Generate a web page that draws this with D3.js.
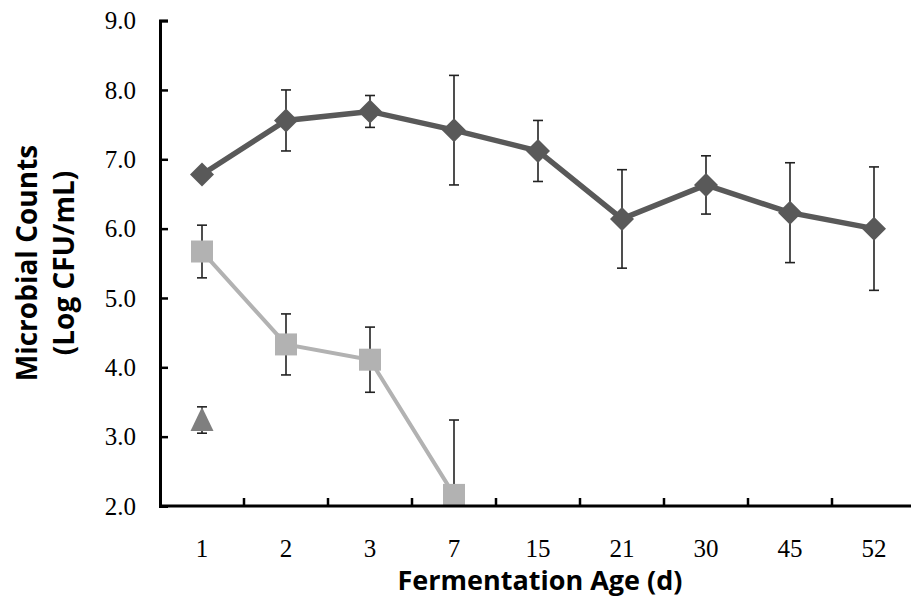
<!DOCTYPE html>
<html><head><meta charset="utf-8">
<script src="https://cdn.jsdelivr.net/npm/d3@7"></script>
<style>body{margin:0;background:#fff}svg{display:block}</style>
</head><body>
<script>
const categories = ["1","2","3","7","15","21","30","45","52"];
const diamondVals = [6.78, 7.56, 7.69, 7.42, 7.12, 6.14, 6.63, 6.23, 6.00];
const diamondErr  = [0.08, 0.44, 0.23, 0.79, 0.44, 0.71, 0.42, 0.72, 0.89];
const squareVals  = [5.67, 4.33, 4.11, 2.16];
const squareErr   = [0.38, 0.44, 0.47, 1.08];
const triangleVals = [3.24];
const triangleErr  = [0.19];
const yTicks = [2,3,4,5,6,7,8,9];

const W = 911, H = 604;
const svg = d3.select("body").append("svg").attr("width", W).attr("height", H);
const x = d3.scaleBand().domain(categories).range([160, 916]);
const y = d3.scaleLinear().domain([2, 9]).range([506, 20.6]);
const cx = c => x(c) + x.bandwidth()/2;

svg.append("defs").append("clipPath").attr("id","plot")
  .append("rect").attr("x",160).attr("y",0).attr("width",W-160).attr("height",506);

const shapes = {
  square: "M-11,-11H11V11H-11Z",
  diamond: "M0,-12L12,0L0,12L-12,0Z",
  triangle: "M0,-13L11.5,11L-11.5,11Z"
};

function series(vals, errs, color, lw, shape) {
  const pts = vals.map((v,i)=>({c:categories[i], v, e:errs[i]}));
  const g = svg.append("g").attr("clip-path","url(#plot)");
  pts.forEach(p=>{
    const X = cx(p.c), y1 = y(p.v + p.e), y2 = y(p.v - p.e);
    g.append("line").attr("x1",X).attr("x2",X).attr("y1",y1).attr("y2",y2)
      .attr("stroke","#222").attr("stroke-width",1.6);
    [y1,y2].forEach(yy=>g.append("line").attr("x1",X-5).attr("x2",X+5).attr("y1",yy).attr("y2",yy)
      .attr("stroke","#222").attr("stroke-width",1.6));
  });
  if (pts.length > 1) {
    g.append("path").datum(pts)
      .attr("d", d3.line().x(p=>cx(p.c)).y(p=>y(p.v)))
      .attr("fill","none").attr("stroke",color).attr("stroke-width",lw);
  }
  g.selectAll(null).data(pts).enter().append("path")
    .attr("transform", p=>`translate(${cx(p.c)},${y(p.v)})`)
    .attr("d", shapes[shape])
    .attr("fill", color);
}

series(squareVals, squareErr, "#b2b2b2", 4, "square");
series(triangleVals, triangleErr, "#7f7f7f", 4, "triangle");
series(diamondVals, diamondErr, "#595959", 5.5, "diamond");

// axes
const yAxis = svg.append("g").attr("transform","translate(160,0)")
  .call(d3.axisRight(y).tickValues(yTicks).tickSize(8).tickFormat(""));
const xAxis = svg.append("g").attr("transform","translate(0,506)")
  .call(d3.axisTop(x).tickSize(0).tickFormat(""));
[yAxis, xAxis].forEach(a=>{
  a.select(".domain").attr("stroke","#000").attr("stroke-width",3);
  a.selectAll(".tick line").attr("stroke","#000").attr("stroke-width",2.5);
});
categories.forEach((c,i)=>{
  if (i===0) return;
  svg.append("line").attr("x1",x(c)).attr("x2",x(c)).attr("y1",506).attr("y2",498)
    .attr("stroke","#000").attr("stroke-width",2.5);
});
xAxis.select(".domain").attr("d","M160,0H911");

// tick labels
svg.append("g").selectAll("text").data(yTicks).enter().append("text")
  .attr("x",136).attr("y",d=>y(d)).attr("dy","0.35em").attr("text-anchor","end")
  .attr("font-family","'Liberation Serif', 'Times New Roman', serif").attr("font-size",25)
  .attr("fill","#000").text(d=>d.toFixed(1));
svg.append("g").selectAll("text").data(categories).enter().append("text")
  .attr("x",d=>cx(d)).attr("y",548).attr("dy","0.35em").attr("text-anchor","middle")
  .attr("font-family","'Liberation Serif', 'Times New Roman', serif").attr("font-size",25)
  .attr("fill","#000").text(d=>d);

// axis titles
const tf = "'Open Sans', Lato, sans-serif";
svg.append("text").attr("x",540).attr("y",581).attr("dy","0.35em").attr("text-anchor","middle")
  .attr("font-family",tf).attr("font-weight","bold").attr("font-size",27)
  .attr("fill","#000").text("Fermentation Age (d)");
const yt = svg.append("text").attr("transform","translate(0,263) rotate(-90)")
  .attr("text-anchor","middle")
  .attr("font-family",tf).attr("font-weight","bold").attr("font-size",28)
  .attr("fill","#000");
yt.append("tspan").attr("x",0).attr("y",37).text("Microbial Counts");
yt.append("tspan").attr("x",0).attr("y",74).text("(Log CFU/mL)");
</script>
</body></html>
